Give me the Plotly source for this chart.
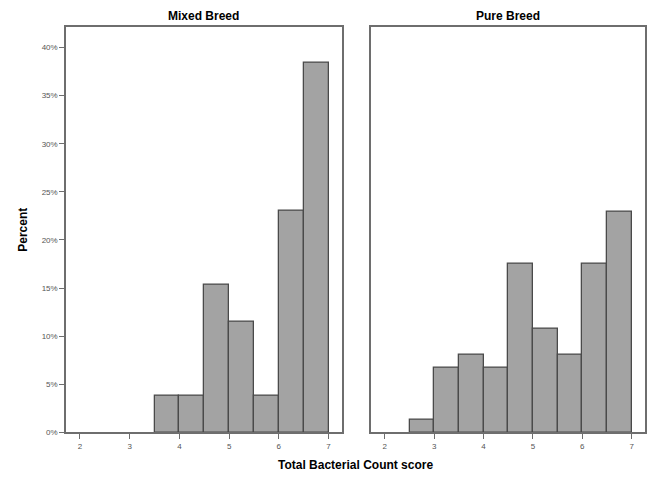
import plotly.graph_objects as go

bin_centers = [2.25, 2.75, 3.25, 3.75, 4.25, 4.75, 5.25, 5.75, 6.25, 6.75]
mixed_pct = [0, 0, 0, 3.85, 3.85, 15.38, 11.54, 3.85, 23.08, 38.46]
pure_pct = [0, 1.35, 6.76, 8.11, 6.76, 17.57, 10.81, 8.11, 17.57, 22.97]
panel_titles = ["Mixed Breed", "Pure Breed"]
x_ticks = [2, 3, 4, 5, 6, 7]
y_ticks = [0, 5, 10, 15, 20, 25, 30, 35, 40]
y_labels = [f"{v}%" for v in y_ticks]

BAR_FILL = "#a3a3a3"
BAR_LINE = "#4a4a4a"
FRAME = "#6e6e6e"
TICKFONT = dict(family="Liberation Sans, Arial, sans-serif", size=8, color="#555555")
BOLD = "Liberation Sans, Arial, sans-serif"


def nonzero(vals):
    # empty bins are not drawn at all (no outline on the baseline)
    return [v if v else None for v in vals]


fig = go.Figure()
fig.add_trace(go.Bar(x=bin_centers, y=nonzero(mixed_pct), width=0.5, xaxis="x", yaxis="y",
                     marker=dict(color=BAR_FILL, line=dict(color=BAR_LINE, width=1.3)),
                     showlegend=False))
fig.add_trace(go.Bar(x=bin_centers, y=nonzero(pure_pct), width=0.5, xaxis="x2", yaxis="y2",
                     marker=dict(color=BAR_FILL, line=dict(color=BAR_LINE, width=1.3)),
                     showlegend=False))

xcommon = dict(range=[1.72, 7.27], tickvals=x_ticks, ticks="outside", ticklen=5,
               tickcolor=FRAME, tickwidth=1, showline=True, linecolor=FRAME, linewidth=1.5,
               mirror=True, showgrid=False, zeroline=False, tickfont=TICKFONT, fixedrange=True)
ycommon = dict(range=[0, 42.16], showline=True, linecolor=FRAME, linewidth=1.5, mirror=True,
               showgrid=False, zeroline=False, domain=[0.0971, 0.9442], fixedrange=True)

fig.update_layout(
    width=651, height=484,
    margin=dict(l=0, r=0, t=0, b=0),
    paper_bgcolor="white", plot_bgcolor="white",
    bargap=0,
    xaxis=dict(domain=[0.1014, 0.5253], anchor="y", **xcommon),
    xaxis2=dict(domain=[0.5699, 0.9908], anchor="y2", **xcommon),
    yaxis=dict(anchor="x", tickvals=y_ticks, ticktext=y_labels, ticks="outside", ticklen=5,
               tickcolor=FRAME, tickfont=TICKFONT, **ycommon),
    yaxis2=dict(anchor="x2", showticklabels=False, ticks="", **ycommon),
)

for title, dom in zip(panel_titles, [(0.1014, 0.5253), (0.5699, 0.9908)]):
    fig.add_annotation(text=f"<b>{title}</b>", x=(dom[0] + dom[1]) / 2, y=0.9442,
                       xref="paper", yref="paper", xanchor="center", yanchor="bottom",
                       yshift=2, showarrow=False,
                       font=dict(family=BOLD, size=12, color="black"))

fig.add_annotation(text="<b>Total Bacterial Count score</b>", x=(0.1014 + 0.9908) / 2, y=0.03,
                   xref="paper", yref="paper", xanchor="center", yanchor="middle",
                   showarrow=False, font=dict(family=BOLD, size=12, color="black"))
fig.add_annotation(text="<b>Percent</b>", x=0.034, y=(0.0971 + 0.9442) / 2, textangle=-90,
                   xref="paper", yref="paper", xanchor="center", yanchor="middle",
                   showarrow=False, font=dict(family=BOLD, size=12, color="black"))

fig.write_html("out.html")
